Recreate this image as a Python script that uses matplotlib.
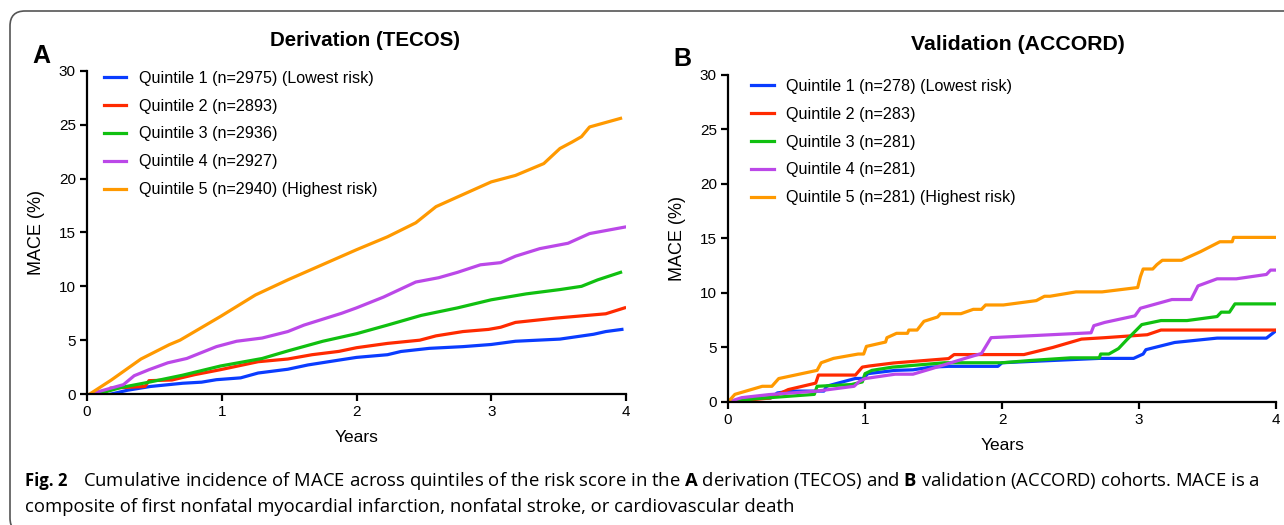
import matplotlib
matplotlib.use("Agg")
import matplotlib.pyplot as plt
from matplotlib.patches import FancyBboxPatch

plt.rcParams["font.family"] = ["Liberation Sans", "DejaVu Sans"]
plt.rcParams["mathtext.fontset"] = "custom"
plt.rcParams["mathtext.rm"] = "Open Sans"
plt.rcParams["mathtext.bf"] = "Open Sans:bold"

colors = ["#0a3cff", "#ff2a00", "#10c010", "#bb48e8", "#ff9900"]

# Panel A: derivation (TECOS)
labels_a = [
    "Quintile 1 (n=2975) (Lowest risk)",
    "Quintile 2 (n=2893)",
    "Quintile 3 (n=2936)",
    "Quintile 4 (n=2927)",
    "Quintile 5 (n=2940) (Highest risk)",
]
a_q1_x = [0.18, 0.3, 0.47, 0.71, 0.85, 0.96, 1.14, 1.27, 1.49, 1.64, 1.87, 2.0, 2.23, 2.33, 2.54, 2.79, 3.0, 3.18, 3.51, 3.76, 3.85, 3.97]
a_q1_y = [0.0, 0.35, 0.7, 1.0, 1.1, 1.33, 1.5, 1.95, 2.3, 2.7, 3.15, 3.4, 3.65, 3.95, 4.24, 4.4, 4.6, 4.9, 5.1, 5.55, 5.8, 6.0]
a_q2_x = [0.18, 0.43, 0.46, 0.63, 0.8, 0.99, 1.27, 1.49, 1.67, 1.87, 2.0, 2.23, 2.47, 2.59, 2.79, 2.98, 3.07, 3.18, 3.48, 3.85, 3.99]
a_q2_y = [0.55, 0.7, 1.24, 1.3, 1.8, 2.26, 3.0, 3.25, 3.65, 3.96, 4.3, 4.7, 5.0, 5.4, 5.8, 6.0, 6.2, 6.65, 7.05, 7.45, 8.0]
a_q3_x = [0.08, 0.25, 0.46, 0.71, 0.99, 1.3, 1.49, 1.75, 2.0, 2.23, 2.48, 2.75, 3.0, 3.26, 3.51, 3.67, 3.79, 3.96]
a_q3_y = [0.0, 0.6, 1.1, 1.75, 2.6, 3.3, 4.0, 4.9, 5.6, 6.4, 7.3, 8.0, 8.75, 9.3, 9.7, 10.0, 10.6, 11.3]
a_q4_x = [0.05, 0.27, 0.35, 0.46, 0.6, 0.74, 0.96, 1.11, 1.3, 1.49, 1.61, 1.89, 2.0, 2.2, 2.44, 2.61, 2.75, 2.92, 3.07, 3.18, 3.36, 3.57, 3.73, 3.99]
a_q4_y = [0.1, 0.87, 1.7, 2.26, 2.9, 3.3, 4.4, 4.9, 5.2, 5.8, 6.4, 7.5, 8.0, 9.0, 10.4, 10.8, 11.3, 12.0, 12.2, 12.8, 13.5, 14.0, 14.9, 15.5]
a_q5_x = [0.02, 0.18, 0.4, 0.61, 0.69, 0.99, 1.25, 1.49, 2.0, 2.23, 2.44, 2.59, 2.75, 3.0, 3.18, 3.39, 3.51, 3.6, 3.67, 3.73, 3.96]
a_q5_y = [0.0, 1.3, 3.25, 4.58, 5.0, 7.2, 9.2, 10.6, 13.4, 14.6, 15.9, 17.4, 18.3, 19.7, 20.3, 21.4, 22.8, 23.4, 23.9, 24.8, 25.6]

# Panel B: validation (ACCORD)
labels_b = [
    "Quintile 1 (n=278) (Lowest risk)",
    "Quintile 2 (n=283)",
    "Quintile 3 (n=281)",
    "Quintile 4 (n=281)",
    "Quintile 5 (n=281) (Highest risk)",
]
b_q1_x = [0, 0.15, 0.31, 0.36, 0.46, 0.70, 0.72, 0.93, 0.99, 1.02, 1.22, 1.35, 1.48, 1.61, 1.97, 2.0, 2.71, 2.96, 3.03, 3.05, 3.26, 3.57, 3.93, 4.0]
b_q1_y = [0, 0.3, 0.37, 0.83, 1.0, 1.0, 1.45, 2.16, 2.16, 2.6, 2.9, 2.95, 3.2, 3.27, 3.27, 3.6, 4.0, 4.0, 4.4, 4.8, 5.46, 5.86, 5.86, 6.54]
b_q2_x = [0, 0.31, 0.44, 0.64, 0.66, 0.93, 0.98, 1.03, 1.21, 1.61, 1.65, 2.16, 2.37, 2.58, 2.75, 3.06, 3.16, 4.0]
b_q2_y = [0, 0.37, 1.14, 1.73, 2.47, 2.47, 3.2, 3.3, 3.58, 3.98, 4.35, 4.35, 5.0, 5.77, 5.9, 6.17, 6.6, 6.6]
b_q3_x = [0, 0.2, 0.63, 0.65, 0.9, 0.98, 1.0, 1.05, 1.2, 1.58, 2.0, 2.2, 2.5, 2.71, 2.72, 2.78, 2.85, 2.91, 3.02, 3.16, 3.35, 3.57, 3.6, 3.66, 3.7, 4.0]
b_q3_y = [0, 0.3, 0.7, 1.44, 1.6, 1.84, 2.6, 2.9, 3.2, 3.6, 3.6, 3.8, 4.05, 4.05, 4.4, 4.4, 4.9, 5.7, 7.1, 7.47, 7.47, 7.84, 8.24, 8.24, 9.0, 9.0]
b_q4_x = [0, 0.1, 0.3, 0.65, 0.92, 0.96, 1.0, 1.22, 1.35, 1.49, 1.73, 1.85, 1.88, 1.92, 2.65, 2.67, 2.75, 2.97, 3.01, 3.24, 3.38, 3.43, 3.57, 3.71, 3.93, 3.96, 4.0]
b_q4_y = [0, 0.4, 0.68, 1.0, 1.44, 1.9, 2.15, 2.55, 2.55, 3.07, 4.0, 4.45, 5.07, 5.9, 6.35, 7.0, 7.3, 7.9, 8.6, 9.4, 9.4, 10.65, 11.3, 11.3, 11.7, 12.1, 12.1]
b_q5_x = [0, 0.05, 0.25, 0.32, 0.37, 0.65, 0.68, 0.77, 0.95, 0.99, 1.01, 1.15, 1.16, 1.23, 1.31, 1.32, 1.38, 1.43, 1.53, 1.55, 1.7, 1.79, 1.85, 1.88, 2.01, 2.25, 2.31, 2.35, 2.54, 2.73, 2.99, 3.01, 3.03, 3.1, 3.13, 3.17, 3.31, 3.45, 3.59, 3.68, 3.69, 4.0]
b_q5_y = [0, 0.7, 1.44, 1.44, 2.15, 2.9, 3.6, 4.0, 4.4, 4.4, 5.1, 5.5, 5.9, 6.3, 6.3, 6.6, 6.6, 7.4, 7.8, 8.1, 8.1, 8.5, 8.5, 8.9, 8.9, 9.3, 9.7, 9.7, 10.1, 10.1, 10.5, 11.5, 12.2, 12.2, 12.6, 13.0, 13.0, 13.8, 14.7, 14.7, 15.1, 15.1]

series_a = [(a_q1_x, a_q1_y), (a_q2_x, a_q2_y), (a_q3_x, a_q3_y), (a_q4_x, a_q4_y), (a_q5_x, a_q5_y)]
series_b = [(b_q1_x, b_q1_y), (b_q2_x, b_q2_y), (b_q3_x, b_q3_y), (b_q4_x, b_q4_y), (b_q5_x, b_q5_y)]


def draw_panel(ax, series, labels, title, title_x, title_size, letter, letter_xy, legend_anchor):
    for (x, y), lab, c in zip(series, labels, colors):
        ax.plot(x, y, color=c, lw=2.3, label=lab, solid_joinstyle="round")
    ax.set_xlim(0, 4)
    ax.set_ylim(0, 30)
    ax.set_xticks([0, 1, 2, 3, 4])
    ax.set_yticks(range(0, 31, 5))
    for s in ("top", "right"):
        ax.spines[s].set_visible(False)
    for s in ("left", "bottom"):
        ax.spines[s].set_linewidth(1.6)
    ax.tick_params(width=1.6, length=5, labelsize=11, pad=3)
    ax.set_xlabel("Years", fontsize=12.5, labelpad=8)
    ax.set_ylabel("MACE (%)", fontsize=13, labelpad=10)
    ax.set_title(title, x=title_x, fontsize=title_size, fontweight="bold", pad=18)
    ax.legend(loc="upper left", bbox_to_anchor=legend_anchor, frameon=False,
              fontsize=11.6, handlelength=1.37, handletextpad=0.8, labelspacing=0.8,
              borderaxespad=0)
    ax.text(letter_xy[0], letter_xy[1], letter, transform=ax.transAxes,
            fontsize=18, fontweight="bold", va="baseline")


fig = plt.figure(figsize=(12.84, 5.25), dpi=100)
ax_a = fig.add_axes([0.0678, 0.2495, 0.4197, 0.6153])
ax_b = fig.add_axes([0.567, 0.2343, 0.4268, 0.6229])

draw_panel(ax_a, series_a, labels_a, "Derivation (TECOS)", 0.515, 14.8, "A", (-0.102, 1.025), (0.02, 1.021))
draw_panel(ax_b, series_b, labels_b, "Validation (ACCORD)", 0.529, 15.3, "B", (-0.100, 1.0275), (0.031, 1.008))

# rounded frame; right and bottom edges run off the canvas
border = FancyBboxPatch((0.1, -0.08), 13.0, 5.22, transform=fig.dpi_scale_trans,
                        boxstyle="round,pad=0,rounding_size=0.15", fill=False,
                        edgecolor="#555555", lw=1.2)
fig.patches.append(border)

fig.text(0.0195, 0.074, "Fig. 2", fontsize=12, fontweight="bold",
         family=["Open Sans", "DejaVu Sans"])
fig.text(0.0646, 0.074,
         "Cumulative incidence of MACE across quintiles of the risk score in the $\\bf{A}$ derivation (TECOS) and "
         "$\\bf{B}$ validation (ACCORD) cohorts. MACE is a",
         fontsize=13.3, family=["Open Sans", "DejaVu Sans"])
fig.text(0.0195, 0.025,
         "composite of first nonfatal myocardial infarction, nonfatal stroke, or cardiovascular death",
         fontsize=13.3, family=["Open Sans", "DejaVu Sans"])

fig.savefig("out.png", dpi=100)
plt.close(fig)
